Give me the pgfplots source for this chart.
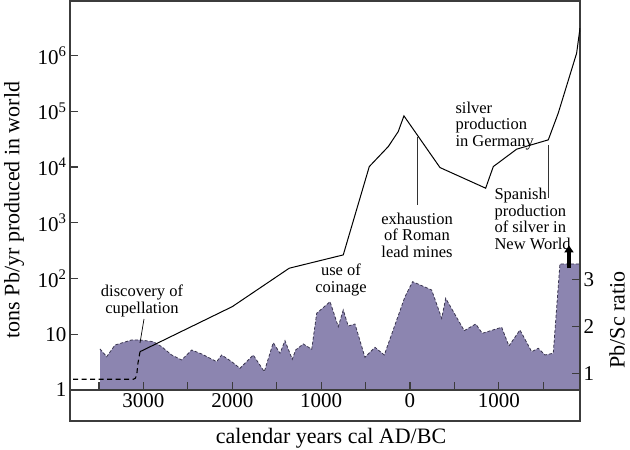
\documentclass[border=0pt]{standalone}
\usepackage{fontspec}
\setmainfont{Liberation Serif}
\usepackage{pgfplots}
\pgfplotsset{compat=1.18}
\usetikzlibrary{calc,arrows.meta}
\definecolor{pbfill}{RGB}{140,133,176}
\definecolor{pbedge}{RGB}{58,54,80}
\definecolor{axgray}{RGB}{60,60,60}
\begin{document}
\begin{tikzpicture}
\pgfplotsset{every axis/.append style={scale only axis, width=510pt, height=389pt,
  xmin=-3827, xmax=1914, axis line style={axgray, line width=1.2pt},
  tick style={axgray, line width=1.1pt}, tick align=inside,
  major tick length=8pt, minor tick length=8pt,
  tick label style={font=\fontsize{21}{25}\selectfont},
  label style={font=\fontsize{22}{26}\selectfont}}}
% Pb/Sc ratio (filled area)
\begin{axis}[name=ratio, ymin=0.642, ymax=8.977, axis on top,
  xtick=\empty, ytick={1,2,3}, yticklabels={1,2,3},
  ytick pos=right, yticklabel pos=right,
  ylabel={Pb/Sc ratio},
  ylabel style={at={(axis description cs:1.0725,0.18)}, anchor=center, rotate=0}]
\addplot[fill=pbfill, draw=none] table {
-3489 1.521
-3414 1.356
-3320 1.606
-3133 1.714
-3039 1.714
-2889 1.677
-2795 1.570
-2682 1.392
-2570 1.285
-2457 1.499
-2345 1.414
-2176 1.249
-2120 1.392
-2007 1.249
-1914 1.107
-1764 1.392
-1640 1.034
-1539 1.656
-1463 1.429
-1407 1.699
-1325 1.300
-1287 1.499
-1201 1.628
-1106 1.514
-1050 2.286
-900 2.534
-807 1.999
-751 2.356
-695 2.013
-619 2.056
-507 1.343
-394 1.557
-289 1.392
-56 2.642
30 2.963
244 2.785
357 2.178
402 2.607
611 1.913
740 2.056
814 1.857
1032 1.986
1114 1.585
1238 1.928
1370 1.463
1444 1.536
1520 1.392
1613 1.429
1688 3.342
1914 3.342
} \closedcycle;
\addplot[pbedge, line width=0.8pt, dash pattern=on 3pt off 2pt] table {
-3489 1.521
-3414 1.356
-3320 1.606
-3133 1.714
-3039 1.714
-2889 1.677
-2795 1.570
-2682 1.392
-2570 1.285
-2457 1.499
-2345 1.414
-2176 1.249
-2120 1.392
-2007 1.249
-1914 1.107
-1764 1.392
-1640 1.034
-1539 1.656
-1463 1.429
-1407 1.699
-1325 1.300
-1287 1.499
-1201 1.628
-1106 1.514
-1050 2.286
-900 2.534
-807 1.999
-751 2.356
-695 2.013
-619 2.056
-507 1.343
-394 1.557
-289 1.392
-56 2.642
30 2.963
244 2.785
357 2.178
402 2.607
611 1.913
740 2.056
814 1.857
1032 1.986
1114 1.585
1238 1.928
1370 1.463
1444 1.536
1520 1.392
1613 1.429
1688 3.342
1914 3.342
};
\draw[black, line width=3.4pt, -{Triangle[width=9pt,length=7pt]}] (axis cs:1790,3.25) -- (axis cs:1790,3.74);
\end{axis}
% lead production (log axis)
\begin{axis}[ymode=log, ymin=1, ymax=9.5e6, yminorticks=false,
  ytick={1,10,100,1000,10000,100000,1000000},
  yticklabels={1,10,10\textsuperscript{2},10\textsuperscript{3},10\textsuperscript{4},10\textsuperscript{5},10\textsuperscript{6}},
  ytick pos=left, xtick pos=bottom,
  xtick={-3000,-2000,-1000,0,1000}, xticklabels={3000,2000,1000,0,1000},
  minor xtick={-3500,-2500,-1500,-500,500,1500},
  xlabel={calendar years cal AD/BC},
  xlabel style={at={(axis description cs:0.5118,-0.1234)}, anchor=center},
  ylabel={tons Pb/yr produced in world},
  ylabel style={at={(axis description cs:-0.1098,0.4627)}, anchor=center}]
\addplot[black, line width=1.1pt, dash pattern=on 5pt off 3.5pt] coordinates {
(-3793,1.556) (-3115,1.556) (-3092,1.62) (-3076,1.86) (-3062,3.01) (-3039,4.87)};
\addplot[black, line width=1pt] coordinates {
(-3039,4.87) (-2000,31.3) (-1359,153) (-751,265) (-458,10180) (-244,23270)
(-132,43250) (-68,82650) (338,9770) (852,4170) (938,10180) (1201,20890)
(1557,30690) (1669,92460) (1876,1.10e6) (1914,3.10e6)};
\end{axis}
\begin{scope}[shift={($(ratio.south west)+(-70pt,390pt)$)}, x=1pt, y=-1pt]
\draw[axgray, line width=1.2pt] (70,390) -- (70,421) -- (580,421) -- (580,390);
\begin{scope}[font=\fontsize{16.5}{16.5}\selectfont]
\node[align=center] at (142,301) {discovery of\\cupellation};
\draw[black, line width=0.7pt] (144,319) -- (140,343);
\node[align=center] at (341,280) {use of\\coinage};
\node[align=center] at (417,235) {exhaustion\\of Roman\\lead mines};
\draw[black!80, line width=0.7pt] (417,137) -- (417,205);
\node[align=left, anchor=west] at (452,126) {silver\\production\\in Germany};
\node[align=left, anchor=west] at (491,219) {Spanish\\production\\of silver in\\New World};
\draw[black!80, line width=0.7pt] (548,145) -- (548,198);
\end{scope}
\pgfresetboundingbox
\useasboundingbox (0,0) rectangle (630,450);
\end{scope}
\end{tikzpicture}
\end{document}
